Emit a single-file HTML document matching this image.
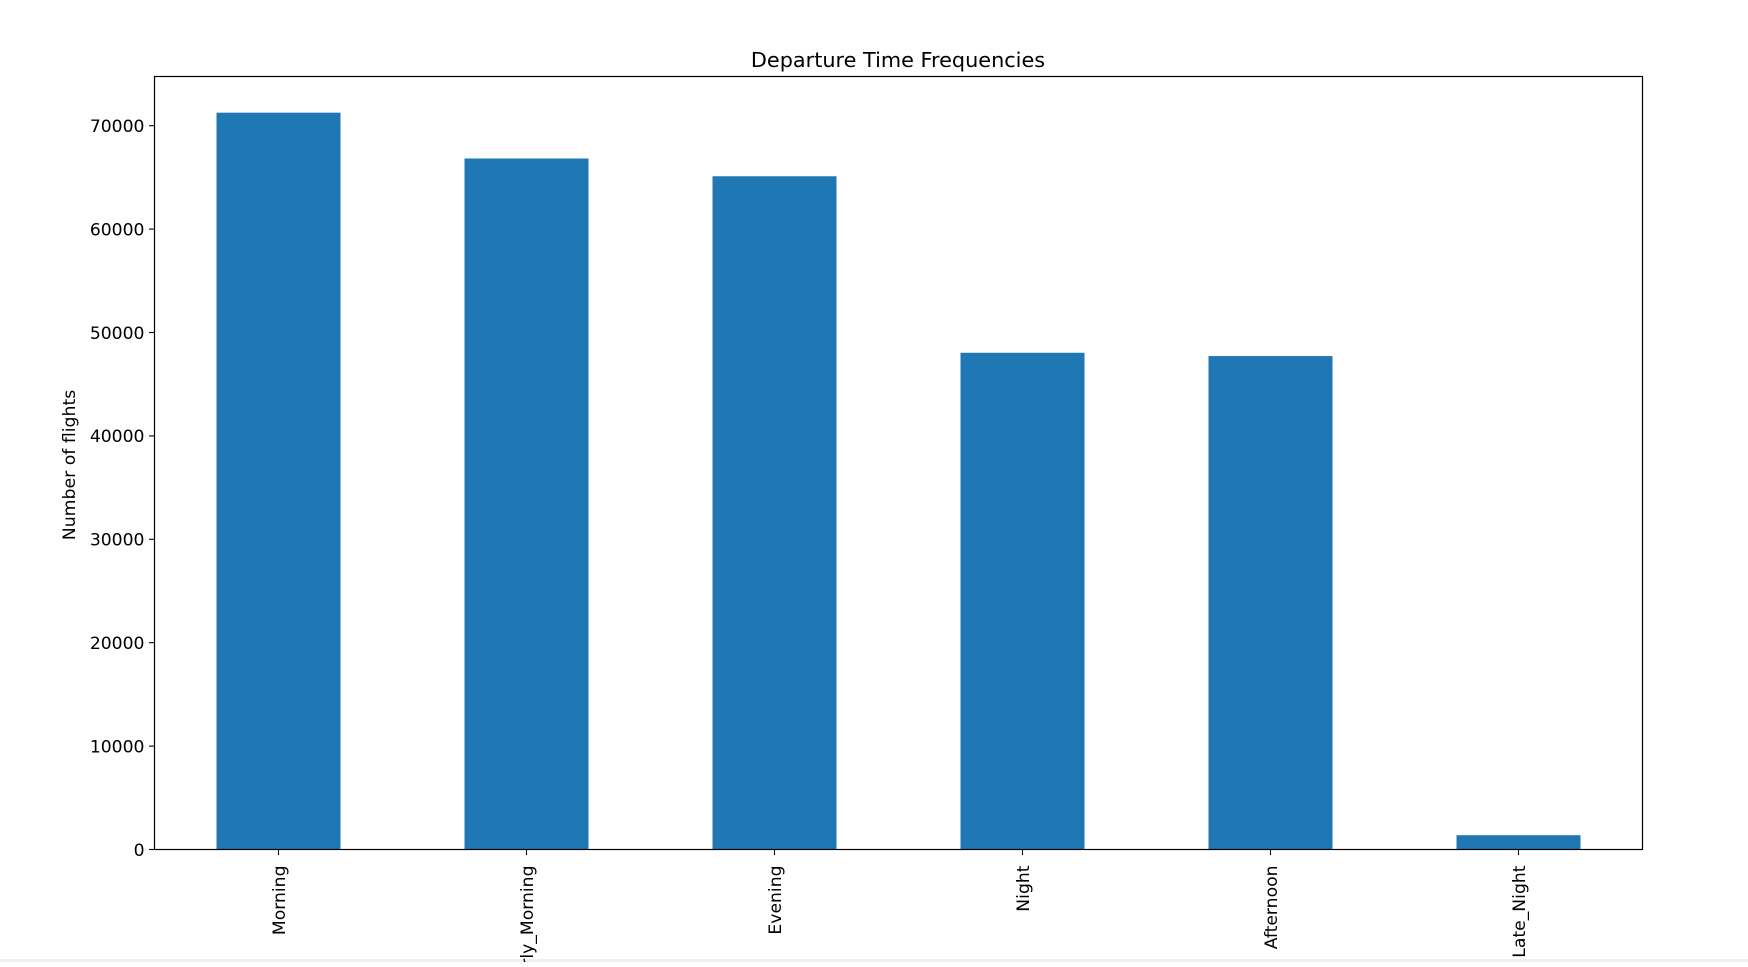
<!DOCTYPE html>
<html><head><meta charset="utf-8"><style>
html,body{margin:0;padding:0;background:#fff;}
svg text{font-family:"DejaVu Sans","Liberation Sans",sans-serif;fill:#000;}
</style></head><body>
<svg id="chart" width="1748" height="962" xmlns="http://www.w3.org/2000/svg">
<rect x="0" y="959" width="1748" height="3" fill="#f0f0f0"/>
<text x="898" y="67" font-size="20.8" text-anchor="middle">Departure Time Frequencies</text>
<text transform="translate(75,465) rotate(-90)" font-size="17.3" text-anchor="middle">Number of flights</text>
<g id="bars"></g>
<g id="yticks"></g>
<g id="xticks"></g>
<rect x="154.5" y="76.5" width="1488" height="773" fill="none" stroke="#000" stroke-width="1.2"/>
</svg>
<script>
const categories = ["Morning","Early_Morning","Evening","Night","Afternoon","Late_Night"];
const counts = [71260, 66830, 65110, 48040, 47720, 1383];
const yTickValues = [0,10000,20000,30000,40000,50000,60000,70000];
const yTickLabels = ["0","10000","20000","30000","40000","50000","60000","70000"];

const L=154.5, R=1642.5, T=76.5, B=849.5;
const NS="http://www.w3.org/2000/svg";
const yScale=v=>B-v*(B-125.7)/70000;
const band=(R-L)/categories.length;
const xCenter=i=>L+band*(i+0.5);
const barW=band*0.5;
function mk(tag,attrs,parent){const e=document.createElementNS(NS,tag);for(const k in attrs)e.setAttribute(k,attrs[k]);parent.appendChild(e);return e;}
const gb=document.getElementById('bars'),gy=document.getElementById('yticks'),gx=document.getElementById('xticks');
categories.forEach((c,i)=>{
  const y=yScale(counts[i]);
  const r=mk('rect',{x:xCenter(i)-barW/2,y:y,width:barW,height:B-y,fill:'#1f77b4'},gb);
  
  
  const t=mk('line',{x1:xCenter(i),x2:xCenter(i),y1:B,y2:B+5.5,stroke:'#000','stroke-width':1.1},gx);
  
  
  const tx=mk('text',{transform:`translate(${xCenter(i)+6.3},${B+16}) rotate(-90)`,'font-size':17.2,'text-anchor':'end'},gx);
  tx.textContent=c;
  
  
});
yTickValues.forEach((v,i)=>{
  const y=yScale(v);
  const t=mk('line',{x1:L-5.5,x2:L,y1:y,y2:y,stroke:'#000','stroke-width':1.1},gy);
  
  
  const tx=mk('text',{x:L-10,y:y+6.3,'font-size':17.2,'text-anchor':'end'},gy);
  tx.textContent=yTickLabels[i];
  
  
});
</script>
</body></html>
